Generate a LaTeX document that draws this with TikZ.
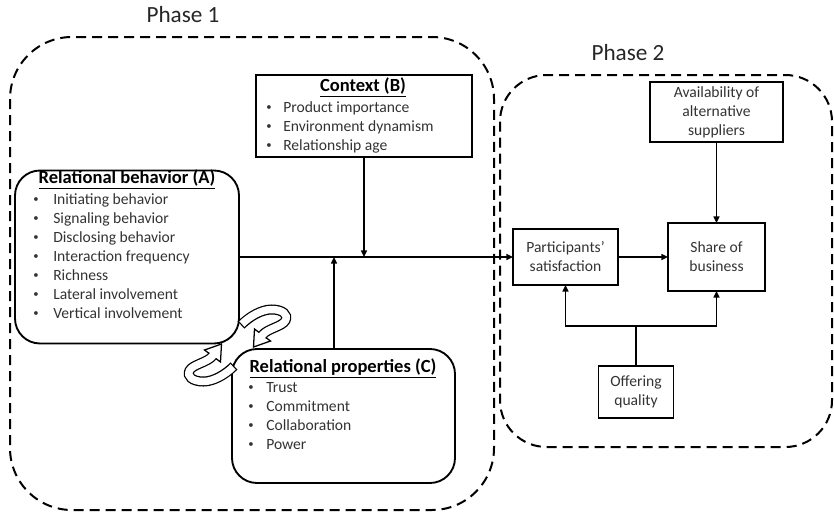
\documentclass[tikz,border=0pt]{standalone}
\usepackage{fontspec}
\setmainfont{Carlito}
\usetikzlibrary{arrows.meta}

% One curved "hook" arrow of the two-arrow cycle between boxes A and C
\newcommand{\loopshape}{%
  \draw[fill=white, line width=0.95pt, line join=miter]
    (33,-4.5) -- (16,1.5) -- (17,-16.5) -- cycle;
  \draw[line width=7.5pt]
    (3.5,-20.5) .. controls (12,-29) and (24,-36) .. (34,-36)
    .. controls (45,-36) and (51,-31) .. (48,-25)
    .. controls (45,-19) and (29.8,-16.9) .. (25,-10.5);
  \draw[white, line width=5.6pt, shorten <=0.95pt]
    (3.5,-20.5) .. controls (12,-29) and (24,-36) .. (34,-36)
    .. controls (45,-36) and (51,-31) .. (48,-25)
    .. controls (45,-19) and (29.8,-16.9) .. (25,-10.5) -- (23.6,-8.6);
}

\begin{document}
\begin{tikzpicture}[x=0.75pt, y=-0.75pt,
  phase/.style={draw, line width=1.5pt, dash pattern=on 7.5pt off 4.5pt},
  sqbox/.style={draw, line width=1.4pt, inner sep=0pt, outer sep=0pt,
    font=\fontsize{11.7pt}{14.25pt}\selectfont, text=black!80, align=center},
  rbox/.style={sqbox, rounded corners=18.75pt},
  txt/.style={font=\fontsize{11.7pt}{14.25pt}\selectfont, text=black!80, inner sep=0pt},
  dot/.style={font=\fontsize{8pt}{8pt}\selectfont, text=black!80, inner sep=0pt},
  ttl/.style={font=\fontsize{13.9pt}{16pt}\selectfont\bfseries, inner sep=0pt},
  phlabel/.style={font=\fontsize{17.4pt}{20pt}\selectfont, text=black!85, inner sep=0pt},
  link/.style={line width=1.1pt},
  conn/.style={link, -{Triangle[length=5pt,width=4.5pt]}}]

\useasboundingbox (0,0) rectangle (834,514);

% Phase frames
\draw[phase, rounded corners=46.5pt] (10,37) rectangle (494,510);
\draw[phase, rounded corners=35pt] (500,75) rectangle (832,447);
\node[phlabel, anchor=mid] (ph1) at (183,19) {Phase 1};
\node[phlabel, anchor=mid] (ph2) at (628,57) {Phase 2};

% Phase 1 boxes
\node[rbox, minimum width=168pt, minimum height=129.75pt] (A) at (127,257) {};
\node[sqbox, minimum width=162pt, minimum height=61.5pt] (B) at (364,116) {};
\node[rbox, minimum width=167.25pt, minimum height=100.5pt] (C) at (343.5,416) {};

% Box A contents
\node[ttl, anchor=mid] (Atitle) at (127,180) {\underline{Relational behavior (A)}};
\foreach \t [count=\i] in {Initiating behavior, Signaling behavior, Disclosing behavior,
    Interaction frequency, Richness, Lateral involvement, Vertical involvement} {
  \node[dot, anchor=center] (Ab\i) at ({36},{200+19*(\i-1)}) {•};
  \node[txt, anchor=mid west] (At\i) at ({53},{201+19*(\i-1)}) {\t};
}

% Box B contents
\node[ttl, anchor=mid] (Btitle) at (363,88) {\underline{Context (B)}};
\foreach \t [count=\i] in {Product importance, Environment dynamism, Relationship age} {
  \node[dot, anchor=center] (Bb\i) at ({269},{108+19*(\i-1)}) {•};
  \node[txt, anchor=mid west] (Bt\i) at ({283},{109+19*(\i-1)}) {\t};
}

% Box C contents
\node[ttl, anchor=mid] (Ctitle) at (343,369) {\underline{Relational properties (C)}};
\foreach \t [count=\i] in {Trust, Commitment, Collaboration, Power} {
  \node[dot, anchor=center] (Cb\i) at ({251},{388+19*(\i-1)}) {•};
  \node[txt, anchor=mid west] (Ct\i) at ({266},{389+19*(\i-1)}) {\t};
}

% Phase 2 boxes
\node[sqbox, minimum width=78.75pt, minimum height=42pt] (P) at (565.5,257) {Participants’\\satisfaction};
\node[sqbox, minimum width=72.75pt, minimum height=51pt] (S) at (716.5,257) {Share of\\business};
\node[sqbox, minimum width=99.75pt, minimum height=45pt] (Av) at (716.5,112) {Availability of\\alternative\\suppliers};
\node[sqbox, minimum width=56.25pt, minimum height=39pt] (O) at (636,392) {Offering\\quality};

% Junction points
\coordinate (jC) at (334,257);
\coordinate (qbar) at (636,326);

% Connectors
\draw[conn] (A.east) -- (P.west);
\draw[conn] (B.south) -- (B.south |- A.east);
\draw[conn] (C.north -| jC) -- (jC);
\draw[conn] (P.east) -- (S.west);
\draw[conn] (Av.south) -- (S.north);
\draw[link] (O.north) -- (qbar);
\draw[conn] (qbar) -| (P.south);
\draw[conn] (qbar) -| (S.south);

% Reciprocal cycle between A and C
\begin{scope}[shift={(237.5,345.5)}]
  \loopshape
\end{scope}
\begin{scope}[shift={(237.5,345.5)}, rotate=180]
  \loopshape
\end{scope}

\end{tikzpicture}
\end{document}
